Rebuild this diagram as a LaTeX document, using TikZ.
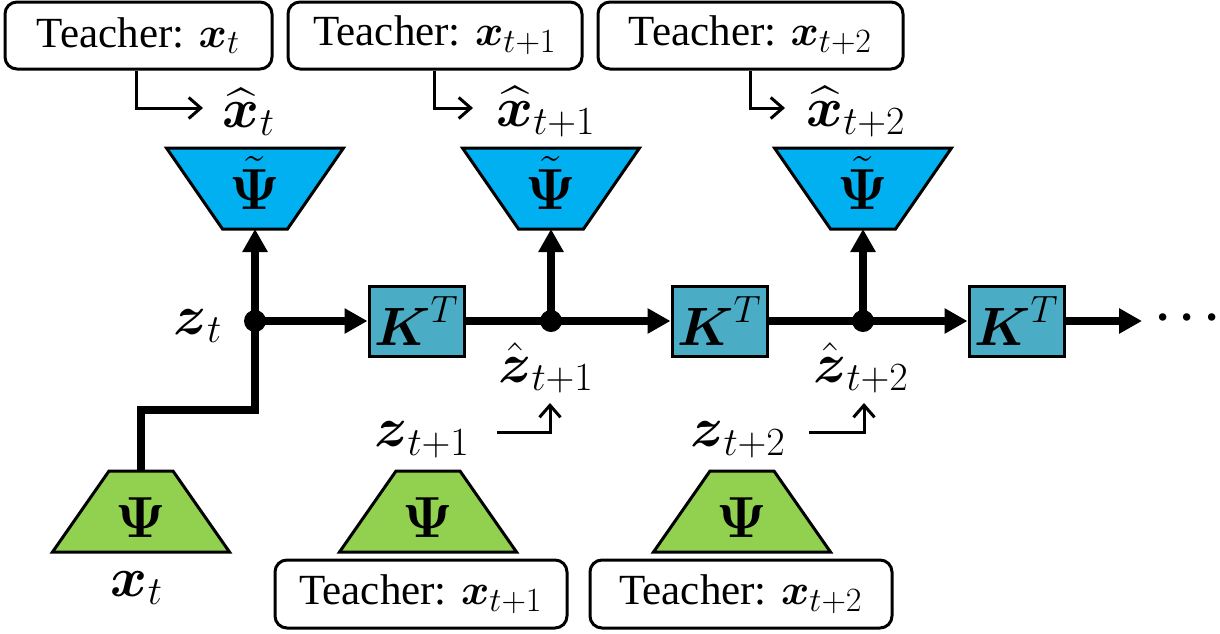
\RequirePackage{fix-cm}
\documentclass[tikz,border=0pt]{standalone}
\usepackage{amsmath}
\usepackage{fontspec}
\setmainfont{Liberation Serif}
\newfontfamily\tnr{Liberation Serif}
\usetikzlibrary{arrows.meta,calc}
\definecolor{blueT}{HTML}{00B0F0}
\definecolor{kblue}{HTML}{4BACC6}
\definecolor{greenT}{HTML}{92D050}
\DeclareMathSizes{21.5}{21.5}{17}{13}
\DeclareMathSizes{28}{28}{20}{15}
\DeclareMathSizes{27}{27}{19}{14}
\DeclareMathSizes{29}{29}{20}{15}
\DeclareMathSizes{24}{24}{17}{13}
\begin{document}
\begin{tikzpicture}[x=0.5pt,y=-0.5pt,
  teacher/.style={draw, line width=1.5pt, rounded corners=6pt, font=\tnr\fontsize{21.5}{24}\selectfont, inner sep=0pt},
  bus/.style={line width=4pt},
  busarrow/.style={line width=4pt, -{Triangle[length=11.5pt,width=12pt]}},
  tarrow/.style={line width=1.5pt, -{Straight Barb[length=6pt,width=10.5pt]}},
  lbl/.style={font=\fontsize{28}{32}\selectfont, inner sep=0pt},
  psi/.style={font=\fontsize{29}{32}\selectfont, inner sep=0pt},
  kbox/.style={draw, fill=kblue, line width=1.5pt, minimum width=47.5pt, minimum height=35pt, inner sep=0pt, font=\fontsize{27}{30}\selectfont},
  junction/.style={circle, fill=black, inner sep=0pt, minimum size=11pt},
  trap/.style={line width=1.5pt, line join=miter}
]
\useasboundingbox (0,0) rectangle (1220,633);

% teacher boxes
\node[teacher, minimum width=133.5pt, minimum height=33.5pt] (t1) at (138.5,35.5) {Teacher: $\boldsymbol{x}_{t}$};
\node[teacher, minimum width=147pt, minimum height=33.5pt] (t2) at (435,35.5) {Teacher: $\boldsymbol{x}_{t+1}$};
\node[teacher, minimum width=152.5pt, minimum height=33.5pt] (t3) at (750.5,35.5) {Teacher: $\boldsymbol{x}_{t+2}$};
\node[teacher, minimum width=146pt, minimum height=34pt] (t4) at (421,594) {Teacher: $\boldsymbol{x}_{t+1}$};
\node[teacher, minimum width=151pt, minimum height=34pt] (t5) at (741,594) {Teacher: $\boldsymbol{x}_{t+2}$};

% decoder trapezoids
\foreach \cx/\n in {255/1,551/2,863/3}{
  \draw[trap, fill=blueT] (\cx-88.5,148) -- (\cx+88.5,148) -- (\cx+32.5,229) -- (\cx-32.5,229) -- cycle;
  \coordinate (b\n) at (\cx,229);
  \node[psi] (bp\n) at (\cx,183) {$\tilde{\boldsymbol{\Psi}}$};
}
% encoder trapezoids
\foreach \cx/\n in {141/1,428/2,742/3}{
  \draw[trap, fill=greenT] (\cx-32,471) -- (\cx+32,471) -- (\cx+88.5,552) -- (\cx-88.5,552) -- cycle;
  \coordinate (g\n) at (\cx,471);
  \node[psi] (gp\n) at (\cx,518) {$\boldsymbol{\Psi}$};
}

% K boxes
\node[kbox] (k1) at (416.5,321) {$\boldsymbol{K}^{T}$};
\node[kbox] (k2) at (719.5,321) {$\boldsymbol{K}^{T}$};
\node[kbox] (k3) at (1016.5,321) {$\boldsymbol{K}^{T}$};

% junctions
\node[junction] (d1) at (255,321) {};
\node[junction] (d2) at (551,321) {};
\node[junction] (d3) at (863,321) {};
\coordinate (end) at (1142,321);

% main bus
\draw[bus] (g1) -- ++(0,-61) -| (d1.center);
\draw[busarrow] (d1.center) -- (b1);
\draw[busarrow] (d1.center) -- (k1.west);
\draw[bus] (k1.east) -- (d2.center);
\draw[busarrow] (d2.center) -- (b2);
\draw[busarrow] (d2.center) -- (k2.west);
\draw[bus] (k2.east) -- (d3.center);
\draw[busarrow] (d3.center) -- (b3);
\draw[busarrow] (d3.center) -- (k3.west);
\draw[busarrow] (k3.east) -- (end);
\node[font=\fontsize{24}{28}\selectfont, inner sep=0pt] (dots) at (1192,318) {$\boldsymbol{\cdots}$};

% labels
\node[lbl] (zt) at (198,326) {$\boldsymbol{z}_{t}$};
\node[lbl] (hx1) at (249,112) {$\widehat{\boldsymbol{x}}_{t}$};
\node[lbl] (hx2) at (546,112) {$\widehat{\boldsymbol{x}}_{t+1}$};
\node[lbl] (hx3) at (856,112) {$\widehat{\boldsymbol{x}}_{t+2}$};
\node[lbl] (hz2) at (546,368) {$\hat{\boldsymbol{z}}_{t+1}$};
\node[lbl] (hz3) at (861,368) {$\hat{\boldsymbol{z}}_{t+2}$};
\node[lbl] (z2) at (422,440) {$\boldsymbol{z}_{t+1}$};
\node[lbl] (z3) at (738,440) {$\boldsymbol{z}_{t+2}$};
\node[lbl] (xt) at (137,588) {$\boldsymbol{x}_{t}$};

% teacher arrows
\coordinate (a1) at (203,108);
\coordinate (a2) at (473,108);
\coordinate (a3) at (785,108);
\draw[tarrow] ([xshift=-1.25pt]t1.south) |- (a1);
\draw[tarrow] ([xshift=-0.5pt]t2.south) |- (a2);
\draw[tarrow] ([xshift=-0.25pt]t3.south) |- (a3);

\coordinate (s2) at (497,432);
\coordinate (e2) at (550,403);
\coordinate (s3) at (809,432);
\coordinate (e3) at (864,403);
\draw[tarrow] (s2) -| (e2);
\draw[tarrow] (s3) -| (e3);
\end{tikzpicture}
\end{document}
